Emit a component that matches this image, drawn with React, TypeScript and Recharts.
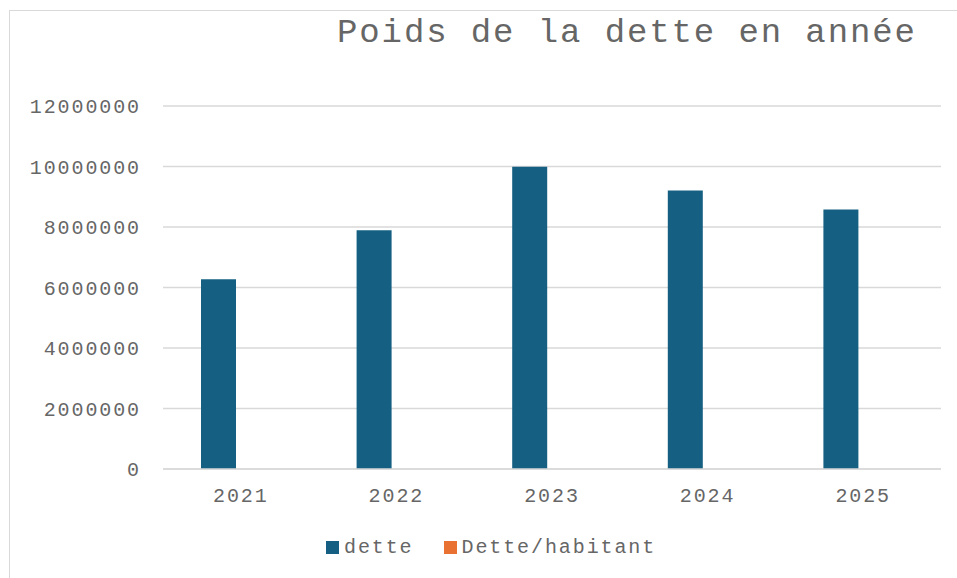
import { BarChart, Bar, XAxis, YAxis, CartesianGrid } from 'recharts';

const years = ['2021', '2022', '2023', '2024', '2025'];
const dette = [6275000, 7890000, 9990000, 9210000, 8580000];
// dette par habitant: far too small to be seen at this scale
const detteHabitant = [1250, 1570, 1990, 1830, 1710];
const yTicks = [0, 2000000, 4000000, 6000000, 8000000, 10000000, 12000000];

const FONT = '"Liberation Mono", "Courier New", monospace';
const TEXT = '#666666';
const GRID = '#D9D9D9';
const series = [
  { key: 'dette', color: '#156082' },
  { key: 'Dette/habitant', color: '#E97132' },
];

const data = years.map((year, i) => ({
  year,
  dette: dette[i],
  'Dette/habitant': detteHabitant[i],
}));

const tickStyle = { fill: TEXT, fontSize: 20, fontFamily: FONT, letterSpacing: 1.9 };

export default function App() {
  return (
    <div style={{ position: 'absolute', left: 0, top: 0, width: 957, height: 578, overflow: 'hidden', background: '#fff' }}>
      <div style={{ position: 'absolute', left: 9, top: 10, width: 1100, height: 700, border: `1px solid ${GRID}` }} />
      <div
        style={{
          position: 'absolute',
          left: 337,
          top: 14,
          fontFamily: FONT,
          fontSize: 34,
          letterSpacing: 1.9,
          color: TEXT,
          whiteSpace: 'nowrap',
        }}
      >
        Poids de la dette en année
      </div>
      <div style={{ position: 'absolute', left: 0, top: 0 }}>
        <BarChart
          width={957}
          height={578}
          data={data}
          margin={{ top: 106, right: 16, bottom: 79, left: 0 }}
          barSize={35}
          barGap={9}
        >
          <CartesianGrid vertical={false} stroke={GRID} strokeWidth={1.3} />
          <XAxis
            dataKey="year"
            height={30}
            axisLine={{ stroke: GRID, strokeWidth: 1.3 }}
            tickLine={false}
            tickSize={0}
            tickMargin={19}
            tick={tickStyle}
          />
          <YAxis
            width={163}
            domain={[0, 12000000]}
            ticks={yTicks}
            axisLine={false}
            tickLine={false}
            tickSize={0}
            tickMargin={22}
            tick={tickStyle}
          />
          {series.map((s) => (
            <Bar key={s.key} dataKey={s.key} fill={s.color} isAnimationActive={false} />
          ))}
        </BarChart>
      </div>
      <div
        style={{
          position: 'absolute',
          left: 326,
          top: 536,
          display: 'flex',
          alignItems: 'center',
          fontFamily: FONT,
          fontSize: 20,
          letterSpacing: 1.9,
          color: TEXT,
          whiteSpace: 'nowrap',
        }}
      >
        {series.map((s, i) => (
          <div key={s.key} style={{ display: 'flex', alignItems: 'center', marginLeft: i ? 30 : 0 }}>
            <span style={{ width: 13, height: 13, background: s.color, marginRight: 5, display: 'inline-block' }} />
            <span>{s.key}</span>
          </div>
        ))}
      </div>
    </div>
  );
}
